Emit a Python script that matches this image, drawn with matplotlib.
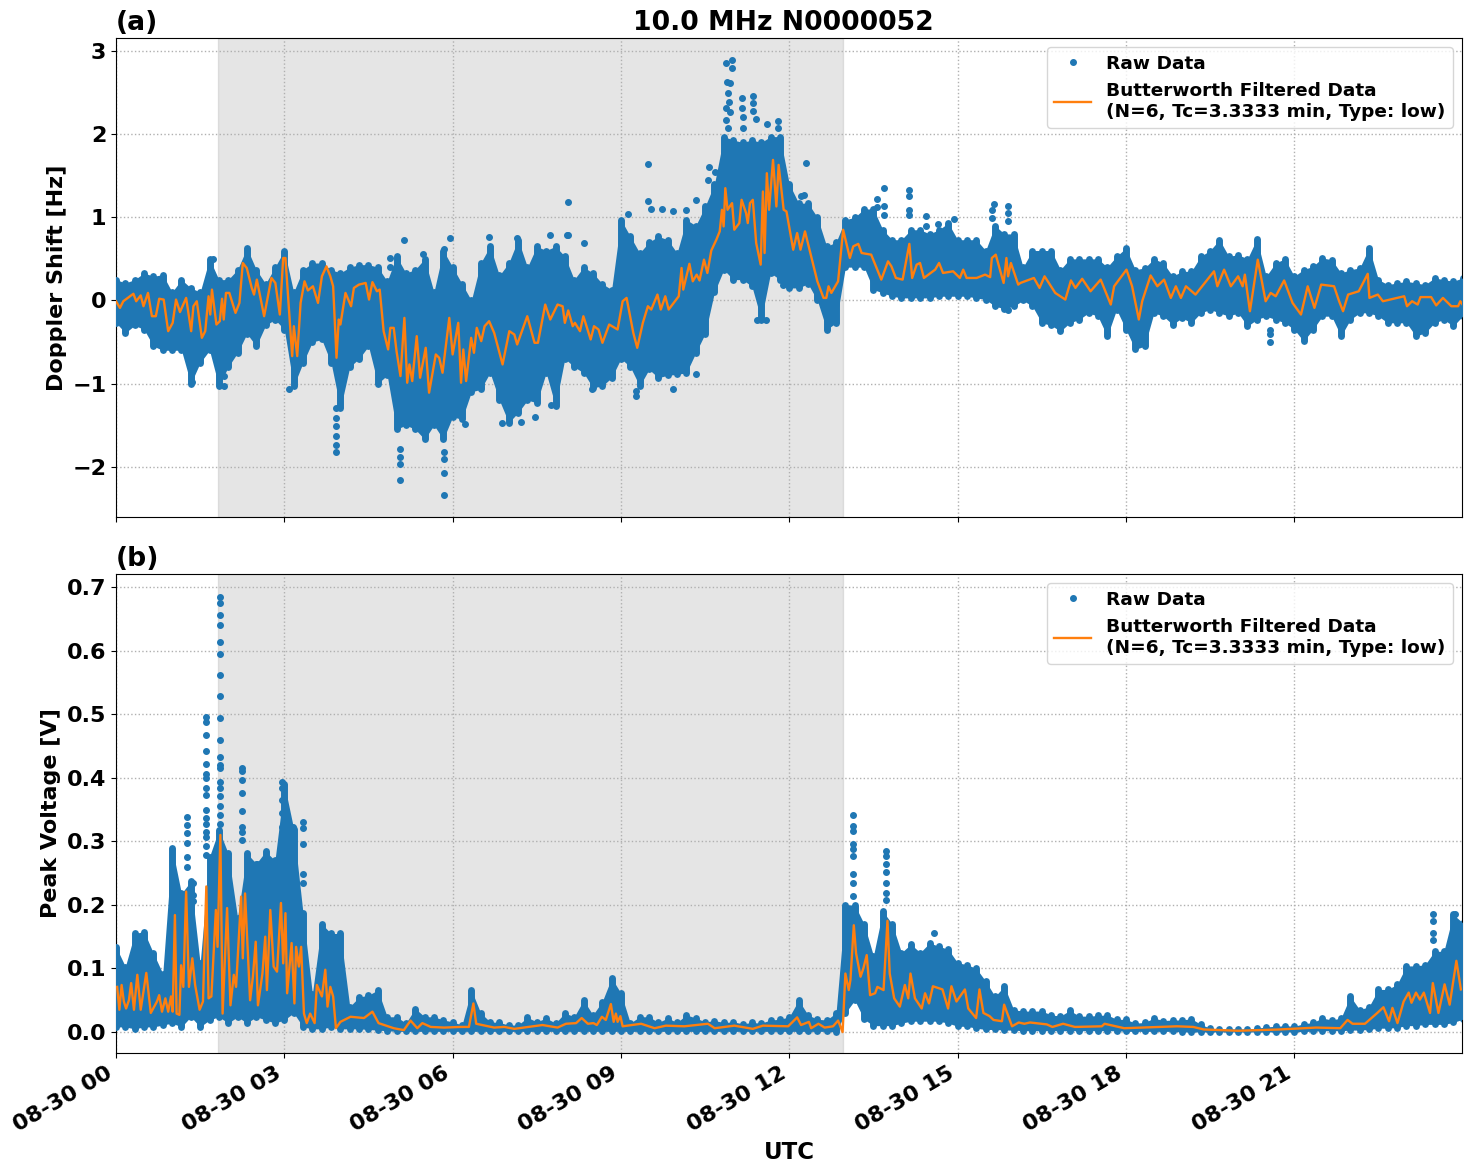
#!/usr/bin/env python3

import matplotlib
matplotlib.use('Agg')

import matplotlib.dates as mdates
import matplotlib.pyplot as plt
import numpy as np
import pandas as pd

TITLE = "10.0 MHz N0000052"
RAW_LABEL = "Raw Data"
FILT_LABEL = "Butterworth Filtered Data\n(N=6, Tc=3.3333 min, Type: low)"

# terminator shading, hours UTC
SHADE_START = 1.82
SHADE_END = 12.96

# Raw data extent per 10 minute bin (6 values per hour, plus the closing bin)
doppler_upper = [
    .25, .21, .25, .33, .29, .31,
    .10, .25, .15, .10, .50, .25,
    .25, .37, .63, .37, .20, .40,
    .60, .10, .37, .45, .45, .37,
    .33, .40, .43, .43, .40, .23,
    .53, .33, .37, .50, .10, .60,
    .40, .20, .00, .45, .65, .30,
    .45, .73, .40, .65, .60, .65,
    .53, .25, .40, .33, .20, .13,
    .97, .77, .57, .70, .77, .73,
    .57, .97, .90, 1.13, 1.40, 1.97,
    1.93, 1.90, 1.93, 1.90, 1.97, 1.97,
    1.40, 1.17, 1.17, 1.00, .65, .70,
    .97, 1.00, 1.10, 1.10, .85, .73,
    .73, .85, .85, .80, .85, .93,
    .73, .73, .73, .60, .90, .80,
    .80, .40, .60, .60, .60, .37,
    .50, .50, .50, .50, .40, .53,
    .63, .37, .39, .50, .45, .29,
    .35, .35, .53, .60, .73, .53,
    .55, .50, .74, .29, .45, .50,
    .29, .37, .41, .51, .49, .33,
    .37, .39, .63, .25, .19, .21,
    .23, .21, .19, .27, .25, .23,
    .27,
]
doppler_lower = [
    -.27, -.39, -.30, -.35, -.55, -.60,
    -.60, -.60, -1.0, -.75, -.60, -1.03,
    -.80, -.63, -.40, -.55, -.30, -.23,
    -.35, -1.03, -.75, -.50, -.47, -.75,
    -1.30, -.80, -.70, -.55, -1.0, -.90,
    -1.55, -1.50, -1.55, -1.67, -1.50, -1.67,
    -1.40, -1.43, -1.10, -1.07, -.87, -1.20,
    -1.47, -1.35, -1.20, -1.23, -.87, -1.27,
    -.70, -.80, -.87, -1.05, -1.03, -.93,
    -.70, -.80, -1.03, -.83, -.93, -.90,
    -.89, -.87, -.63, -.40, .10, .37,
    .25, .25, .17, -.23, .33, .25,
    .15, .15, .20, .00, -.35, -.27,
    .40, .40, .40, .13, .09, .05,
    .03, .03, .03, .03, .05, .05,
    .05, .05, .03, .01, -.07, -.10,
    -.07, .00, -.07, -.27, -.30, -.37,
    -.27, -.23, -.15, -.19, -.43, -.11,
    -.35, -.59, -.55, -.15, -.19, -.29,
    -.21, -.27, -.15, -.11, -.15, -.19,
    -.15, -.31, -.23, -.19, -.23, -.27,
    -.35, -.49, -.35, -.19, -.19, -.43,
    -.23, -.15, -.15, -.19, -.27, -.27,
    -.27, -.43, -.39, -.27, -.23, -.31,
    -.19,
]
voltage_upper = [
    .134, .103, .155, .158, .124, .092,
    .290, .218, .237, .108, .276, .318,
    .281, .180, .281, .265, .284, .270,
    .390, .320, .187, .060, .170, .155,
    .155, .040, .055, .058, .066, .024,
    .024, .014, .037, .024, .024, .019,
    .016, .011, .066, .030, .016, .015,
    .011, .011, .023, .016, .022, .014,
    .030, .024, .050, .027, .048, .085,
    .061, .014, .024, .024, .015, .022,
    .015, .027, .022, .016, .018, .015,
    .016, .013, .015, .014, .019, .020,
    .024, .050, .027, .020, .019, .030,
    .200, .200, .170, .120, .190, .170,
    .125, .138, .125, .140, .135, .130,
    .109, .106, .100, .080, .056, .072,
    .035, .033, .033, .033, .027, .025,
    .034, .025, .025, .026, .027, .020,
    .020, .014, .015, .022, .018, .019,
    .019, .021, .012, .006, .005, .005,
    .005, .005, .006, .008, .009, .010,
    .009, .013, .015, .022, .019, .022,
    .056, .035, .040, .067, .067, .075,
    .104, .104, .106, .127, .127, .185,
    .172,
]
voltage_lower = [
    .008, .008, .005, .008, .008, .011,
    .014, .008, .024, .008, .019, .024,
    .014, .024, .014, .024, .019, .014,
    .019, .030, .008, .005, .005, .008,
    .005, .005, .005, .004, .003, .002,
    .001, .001, .001, .001, .001, .001,
    .001, .001, .001, .001, .001, .001,
    .001, .001, .001, .001, .001, .001,
    .001, .001, .001, .001, .001, .001,
    .001, .001, .001, .001, .001, .001,
    .001, .001, .001, .001, .001, .001,
    .001, .001, .001, .001, .001, .001,
    .001, .001, .001, .001, .001, .000,
    .030, .050, .020, .010, .010, .010,
    .014, .017, .017, .017, .017, .014,
    .009, .009, .006, .004, .004, .003,
    .003, .002, .002, .002, .002, .002,
    .002, .002, .002, .002, .002, .002,
    .001, .001, .001, .001, .001, .001,
    .000, .000, .000, .000, .000, .000,
    .000, .000, .000, .000, .000, .000,
    .000, .001, .001, .002, .002, .002,
    .003, .003, .004, .006, .006, .007,
    .010, .010, .012, .012, .012, .015,
    .020,
]

# isolated raw samples outside the main band: (hour, value)
doppler_points = [
    (1.72, .50), (4.89, .51), (4.89, .40), (5.13, .73), (5.47, .56), (5.95, .75), (5.85, .62),
    (6.65, .76), (7.15, .75), (7.74, .79), (8.06, .79), (8.06, 1.18), (8.03, .79), (8.35, .69),
    (5.07, -2.16), (5.07, -1.97), (5.07, -1.88), (5.07, -1.79), (5.85, -2.34), (5.85, -2.07),
    (5.85, -1.91), (5.85, -1.82), (6.22, -1.49), (6.88, -1.47), (7.22, -1.46), (7.47, -1.40),
    (7.76, -1.26), (3.93, -1.82), (3.93, -1.74), (3.93, -1.63), (3.93, -1.51), (3.93, -1.41),
    (3.93, -1.29), (3.08, -1.07), (1.92, -1.03), (1.92, -.91), (1.36, -.98),
    (9.48, 1.64), (9.48, 1.20), (9.54, 1.10), (9.12, 1.04), (9.92, 1.07), (9.74, 1.10),
    (10.16, 1.09), (10.33, 1.21), (10.57, 1.60), (10.67, 1.54), (10.56, 1.45),
    (10.87, 2.86), (10.98, 2.89), (10.98, 2.79), (10.89, 2.63), (10.95, 2.61), (10.90, 2.49),
    (10.93, 2.39), (10.87, 2.31), (10.95, 2.27), (10.87, 2.17), (10.90, 2.07),
    (11.16, 2.43), (11.16, 2.31), (11.18, 2.20), (11.17, 2.07), (11.35, 2.46), (11.36, 2.37),
    (11.35, 2.28), (11.41, 2.18), (11.60, 2.12), (11.80, 2.16), (11.80, 2.07),
    (12.30, 1.65), (12.26, 1.27), (12.20, 1.25), (8.48, -1.06), (9.92, -1.06), (9.26, -1.15),
    (9.26, -1.09), (10.34, -.88), (11.43, -.24), (11.59, -.24), (11.89, .18),
    (13.69, 1.35), (13.56, 1.22), (13.56, 1.12), (13.69, 1.14), (13.69, 1.03),
    (14.13, 1.33), (14.13, 1.25), (14.13, 1.09), (14.13, 1.03), (14.44, 1.01), (14.44, .89),
    (14.65, .92), (14.94, .98), (15.64, 1.16), (15.62, 1.09), (15.62, .99),
    (15.90, 1.14), (15.90, 1.05), (15.90, .95), (15.90, -.11),
    (20.57, -.35), (20.57, -.41), (20.57, -.50),
]
voltage_points = [
    (1.61, .496), (1.61, .487), (1.61, .467), (1.61, .442), (1.61, .421), (1.61, .406),
    (1.61, .399), (1.61, .384), (1.61, .373), (1.61, .349), (1.61, .336), (1.61, .328),
    (1.61, .315), (1.61, .307), (1.61, .292), (1.61, .279),
    (1.86, .685), (1.86, .675), (1.86, .656), (1.86, .641), (1.86, .614), (1.86, .594),
    (1.86, .561), (1.86, .528), (1.86, .494), (1.86, .459), (1.86, .432), (1.86, .420),
    (1.86, .415), (1.86, .394), (1.86, .384), (1.86, .371), (1.86, .355), (1.86, .342),
    (1.86, .328),
    (1.26, .339), (1.26, .326), (1.26, .313), (1.26, .297), (1.26, .276), (1.26, .260),
    (2.24, .415), (2.24, .410), (2.24, .397), (2.24, .376), (2.24, .348), (2.24, .323),
    (2.24, .315), (2.24, .302),
    (2.95, .394), (2.95, .384), (2.95, .365), (2.95, .344), (2.95, .323), (2.95, .302),
    (3.15, .323), (3.15, .315), (3.15, .284), (3.15, .268), (3.15, .252), (3.15, .236),
    (3.15, .220),
    (3.33, .331), (3.33, .321), (3.33, .295), (3.33, .248), (3.33, .234),
    (2.51, .265), (2.51, .255), (2.51, .239), (2.51, .218), (2.51, .208),
    (1.38, .235), (1.38, .216), (1.38, .206),
    (13.13, .342), (13.13, .324), (13.13, .316), (13.13, .296), (13.13, .288), (13.13, .277),
    (13.13, .248), (13.13, .235), (13.13, .214),
    (13.73, .285), (13.73, .277), (13.73, .264), (13.73, .251), (13.73, .235), (13.73, .219),
    (13.73, .208),
    (14.58, .155), (23.47, .185), (23.47, .175), (23.47, .156), (23.47, .145),
    (23.86, .185), (23.86, .172), (23.86, .156),
]

# low-pass filtered trace, turning points: (hour, value)
doppler_filtered = [
    (0, -.01), (.07, -.09), (.13, -.01), (.31, .08), (.36, -.01), (.44, .06), (.49, -.07),
    (.57, .09), (.64, -.19), (.71, -.19), (.77, .02), (.85, .01), (.93, -.37), (1.01, -.27),
    (1.07, .01), (1.14, -.14), (1.25, .03), (1.34, -.37), (1.38, -.07), (1.44, -.01),
    (1.53, -.45), (1.59, -.37), (1.65, .05), (1.68, -.17), (1.71, .13), (1.79, -.29),
    (1.85, -.25), (1.89, .02), (1.92, -.23), (1.96, .09), (2.02, .09), (2.13, -.15),
    (2.20, -.03), (2.26, .45), (2.33, .39), (2.42, .15), (2.46, .07), (2.51, .25),
    (2.64, -.19), (2.77, .27), (2.84, .21), (2.92, -.17), (2.98, .51), (3.02, .51),
    (3.14, -.67), (3.17, -.31), (3.23, -.67), (3.29, -.03), (3.36, .23), (3.42, .12),
    (3.51, .17), (3.60, -.03), (3.67, .29), (3.75, .41), (3.82, .29), (3.87, .17),
    (3.93, -.69), (3.97, -.23), (4.00, -.29), (4.09, .09), (4.19, -.07), (4.24, .15),
    (4.33, .19), (4.45, .21), (4.51, .01), (4.57, .22), (4.65, .11), (4.70, .13),
    (4.77, -.37), (4.85, -.59), (4.89, -.33), (4.95, -.33), (5.00, -.61), (5.07, -.91),
    (5.14, -.21), (5.19, -.99), (5.23, -.77), (5.28, -.97), (5.36, -.43), (5.42, -.93),
    (5.52, -.57), (5.58, -1.11), (5.70, -.65), (5.76, -.69), (5.82, -.87), (5.94, -.21),
    (6.00, -.65), (6.10, -.27), (6.15, -.99), (6.19, -.59), (6.24, -.97), (6.33, -.45),
    (6.38, -.63), (6.43, -.33), (6.51, -.49), (6.57, -.31), (6.65, -.25), (6.74, -.39),
    (6.89, -.77), (7.01, -.37), (7.10, -.41), (7.15, -.53), (7.33, -.19), (7.46, -.51),
    (7.52, -.51), (7.65, -.05), (7.74, -.23), (7.87, -.05), (7.96, -.07), (8.00, -.27),
    (8.06, -.12), (8.14, -.31), (8.18, -.27), (8.27, -.37), (8.33, -.19), (8.46, -.47),
    (8.52, -.31), (8.60, -.35), (8.67, -.51), (8.79, -.29), (8.94, -.35), (9.03, -.01),
    (9.10, .03), (9.22, -.39), (9.29, -.57), (9.39, -.27), (9.48, -.07), (9.54, -.11),
    (9.65, .07), (9.71, -.11), (9.79, .05), (9.85, -.11), (10.03, .05), (10.08, .39),
    (10.11, .13), (10.22, .44), (10.28, .23), (10.35, .31), (10.40, .24), (10.48, .49),
    (10.54, .33), (10.61, .60), (10.70, .73), (10.76, .83), (10.80, 1.09), (10.83, .89),
    (10.86, 1.35), (10.90, 1.09), (10.98, 1.17), (11.02, .85), (11.11, .93), (11.15, 1.21),
    (11.23, 1.05), (11.26, .93), (11.30, 1.17), (11.35, 1.21), (11.41, .69), (11.49, .43),
    (11.53, 1.31), (11.56, .57), (11.60, 1.53), (11.64, 1.09), (11.71, 1.69), (11.77, 1.13),
    (11.81, 1.63), (11.90, 1.09), (11.95, 1.07), (12.07, .61), (12.14, .81), (12.20, .61),
    (12.28, .83), (12.39, .53), (12.50, .23), (12.61, .03), (12.66, .03), (12.70, .17),
    (12.75, .09), (12.87, .23), (12.96, .85), (13.08, .51), (13.14, .65), (13.23, .68),
    (13.29, .57), (13.46, .55), (13.64, .25), (13.76, .47), (13.82, .41), (13.90, .27),
    (14.02, .25), (14.14, .68), (14.19, .27), (14.27, .43), (14.33, .45), (14.40, .27),
    (14.60, .37), (14.67, .45), (14.74, .33), (14.92, .35), (15.04, .27), (15.10, .37),
    (15.16, .27), (15.34, .27), (15.49, .31), (15.58, .28), (15.61, .51), (15.68, .55),
    (15.82, .21), (15.87, .51), (15.90, .29), (15.95, .45), (16.08, .19), (16.12, .21),
    (16.36, .27), (16.46, .15), (16.55, .29), (16.74, .09), (16.92, .01), (17.02, .24),
    (17.10, .15), (17.22, .26), (17.37, .11), (17.55, .25), (17.73, -.05), (17.79, .17),
    (18.01, .37), (18.11, .17), (18.23, -.23), (18.29, -.01), (18.44, .30), (18.56, .17),
    (18.68, .25), (18.80, .03), (18.89, .17), (18.98, .03), (19.07, .17), (19.24, .07),
    (19.57, .35), (19.63, .17), (19.75, .37), (19.87, .17), (20.00, .29), (20.08, .17),
    (20.12, .31), (20.21, -.13), (20.35, .49), (20.49, -.01), (20.58, .09), (20.67, .05),
    (20.82, .24), (20.97, -.03), (21.12, -.17), (21.24, .17), (21.36, -.09), (21.48, .19),
    (21.71, .17), (21.80, -.01), (21.87, -.13), (21.96, .07), (22.15, .11), (22.31, .32),
    (22.34, .03), (22.49, .07), (22.58, -.01), (22.96, .05), (23.01, -.07), (23.10, -.01),
    (23.20, -.05), (23.25, .04), (23.44, .04), (23.53, -.06), (23.65, .03), (23.80, -.07),
    (23.92, -.07), (23.96, -.01), (24.00, -.05),
]
voltage_filtered = [
    (.02, .071), (.06, .035), (.10, .074), (.14, .048), (.18, .037), (.23, .050), (.27, .077),
    (.32, .035), (.38, .090), (.44, .035), (.54, .093), (.62, .030), (.73, .048), (.77, .058),
    (.82, .032), (.88, .053), (.93, .032), (.98, .056), (1.01, .032), (1.05, .184), (1.08, .029),
    (1.13, .027), (1.16, .105), (1.20, .071), (1.25, .221), (1.30, .071), (1.36, .116),
    (1.41, .074), (1.49, .035), (1.55, .048), (1.61, .229), (1.65, .053), (1.70, .056),
    (1.78, .192), (1.81, .134), (1.86, .310), (1.90, .029), (1.98, .195), (2.04, .042),
    (2.10, .090), (2.14, .071), (2.23, .213), (2.26, .116), (2.30, .218), (2.39, .050),
    (2.44, .087), (2.49, .142), (2.53, .042), (2.61, .092), (2.66, .150), (2.69, .066),
    (2.75, .192), (2.81, .103), (2.87, .095), (2.94, .203), (2.98, .108), (3.02, .187),
    (3.05, .061), (3.13, .140), (3.18, .045), (3.21, .134), (3.26, .103), (3.30, .134),
    (3.35, .029), (3.40, .014), (3.46, .029), (3.54, .014), (3.58, .074), (3.67, .056),
    (3.73, .098), (3.77, .040), (3.82, .071), (3.87, .056), (3.92, .006), (4.00, .016),
    (4.18, .024), (4.42, .022), (4.57, .032), (4.68, .014), (4.95, .006), (5.13, .003),
    (5.25, .018), (5.37, .006), (5.46, .014), (5.61, .008), (5.85, .007), (6.14, .008),
    (6.29, .008), (6.37, .045), (6.42, .013), (6.74, .007), (6.92, .008), (7.10, .005),
    (7.60, .011), (7.87, .007), (8.02, .013), (8.20, .014), (8.30, .022), (8.41, .013),
    (8.51, .014), (8.57, .011), (8.66, .024), (8.73, .019), (8.82, .044), (8.87, .016),
    (8.91, .029), (8.94, .016), (8.99, .025), (9.03, .009), (9.36, .013), (9.60, .006),
    (9.80, .010), (10.13, .009), (10.55, .013), (10.67, .006), (11.02, .010), (11.35, .005),
    (11.53, .010), (11.98, .009), (12.14, .023), (12.21, .011), (12.35, .016), (12.39, .006),
    (12.52, .013), (12.63, .007), (12.78, .009), (12.87, .018), (12.95, .000), (13.00, .092),
    (13.06, .066), (13.09, .082), (13.15, .168), (13.19, .124), (13.27, .087), (13.32, .100),
    (13.38, .121), (13.44, .058), (13.53, .061), (13.57, .071), (13.68, .066), (13.75, .175),
    (13.79, .092), (13.87, .053), (13.97, .040), (14.06, .074), (14.12, .053), (14.16, .092),
    (14.24, .053), (14.36, .037), (14.42, .061), (14.49, .045), (14.56, .072), (14.63, .070),
    (14.73, .067), (14.83, .037), (14.89, .072), (14.98, .048), (15.13, .067), (15.19, .037),
    (15.33, .022), (15.39, .067), (15.46, .030), (15.57, .025), (15.64, .019), (15.79, .017),
    (15.83, .043), (15.97, .009), (16.09, .015), (16.19, .013), (16.29, .015), (16.59, .012),
    (16.69, .008), (16.88, .013), (17.09, .008), (17.57, .009), (17.62, .013), (17.97, .006),
    (18.91, .009), (19.20, .008), (19.39, .004), (20.00, .002), (20.73, .004), (21.39, .007),
    (21.82, .006), (21.95, .019), (22.04, .013), (22.26, .013), (22.48, .030), (22.59, .039),
    (22.69, .017), (22.75, .038), (22.84, .014), (22.95, .048), (23.04, .062), (23.09, .046),
    (23.17, .062), (23.24, .051), (23.31, .062), (23.42, .030), (23.47, .077), (23.57, .030),
    (23.68, .075), (23.77, .043), (23.89, .112), (23.97, .067),
]

plt.rcParams.update({
    'font.family': 'DejaVu Sans',
    'font.weight': 'bold',
    'font.size': 16,
    'axes.labelweight': 'bold',
    'axes.titleweight': 'bold',
})

T0 = pd.Timestamp('2021-08-30 00:00')


def to_time(hours):
    return T0 + pd.to_timedelta(np.asarray(hours, dtype=float), unit='h')


def plot_panel(ax, upper, lower, points, filtered, ylabel, tag):
    hours = np.arange(len(upper)) / 6
    times = to_time(hours)
    raw_h, raw_v = zip(*points)
    filt_h, filt_v = zip(*filtered)

    ax.axvspan(to_time(SHADE_START), to_time(SHADE_END), color='gray', alpha=0.2, zorder=1)

    # the raw samples overlap into a solid band with rounded columns
    ax.fill_between(times, lower, upper, color='C0', linewidth=0, zorder=3)
    ax.vlines(times, lower, upper, colors='C0', linewidth=5, capstyle='round', zorder=3)
    ax.plot(to_time(raw_h), raw_v, '.', color='C0', ms=8, zorder=3, label=RAW_LABEL)
    ax.plot(to_time(filt_h), filt_v, color='C1', lw=1.7, zorder=4, label=FILT_LABEL)

    ax.set_xlim(T0, to_time(23.99))
    ax.set_ylabel(ylabel, fontsize=16, fontweight='bold')
    ax.set_title(tag, loc='left', fontsize=19.2, fontweight='bold', pad=6)
    ax.grid(True, color='#b0b0b0', linestyle=':', linewidth=1)
    ax.legend(loc='upper right', prop={'size': 13.3, 'weight': 'bold'})


fig, (ax1, ax2) = plt.subplots(nrows=2, sharex=True, figsize=(14.72, 11.72), dpi=100)

plot_panel(ax1, doppler_upper, doppler_lower, doppler_points, doppler_filtered, "Doppler Shift [Hz]", "(a)")
plot_panel(ax2, voltage_upper, voltage_lower, voltage_points, voltage_filtered, "Peak Voltage [V]", "(b)")

ax1.set_title(TITLE, x=0.496, fontsize=19.2, fontweight='bold', pad=6)
ax1.set_ylim(-2.605, 3.156)
ax1.set_yticks([-2, -1, 0, 1, 2, 3])
ax2.set_ylim(-0.033, 0.7205)
ax2.set_yticks(np.arange(0, 0.8, 0.1))

ax2.xaxis.set_major_locator(mdates.HourLocator(byhour=range(0, 24, 3)))
ax2.xaxis.set_major_formatter(mdates.DateFormatter('%m-%d %H'))
ax2.set_xlabel("UTC", fontsize=16.5, fontweight='bold')
fig.autofmt_xdate()
fig.subplots_adjust(left=116 / 1472, right=1462 / 1472, top=1 - 38 / 1172, bottom=1 - 1053 / 1172, hspace=0.119)

plt.savefig('out.png', dpi=100)
